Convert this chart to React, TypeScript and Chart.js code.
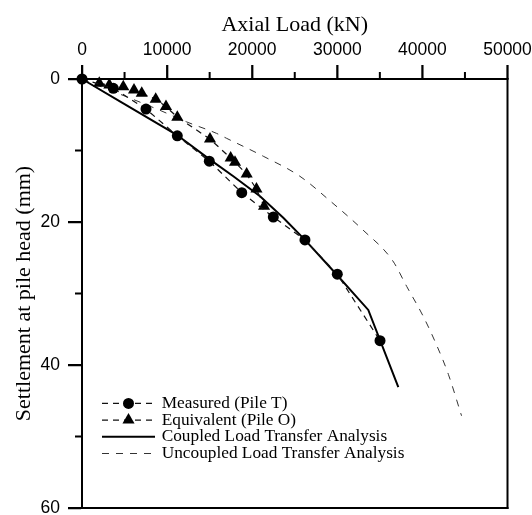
import React, { useEffect, useRef } from 'react';
import { Chart, registerables } from 'chart.js';

Chart.register(...registerables);

// ---- data ----
const xMajorStep = 10000;
const xMajorTicks = [0, 10000, 20000, 30000, 40000, 50000];
const xMinorTicks = [5000, 15000, 25000, 35000, 45000];
const yMajorStep = 20;
const yMajorTicks = [0, 20, 40, 60];
const yMinorTicks = [10, 30, 50];

const measuredLoad = [0, 3680, 7520, 11200, 14960, 18770, 22480, 26200, 30000, 35020];
const measuredSettle = [0, 1.3, 4.2, 7.95, 11.5, 15.9, 19.3, 22.5, 27.3, 36.6];

const equivLoad = [2030, 3210, 4850, 6110, 7020, 8660, 9870, 11200, 15040, 17470, 17980, 19350, 20500, 21390];
const equivSettle = [0.6, 0.84, 1.07, 1.53, 2.0, 2.83, 3.86, 5.34, 8.4, 11.06, 11.65, 13.3, 15.4, 17.8];

const coupledLoad = [0, 4850, 11130, 14960, 17780, 20920, 23650, 26200, 29730, 33640, 37170];
const coupledSettle = [0, 3.4, 7.8, 11.2, 13.6, 16.4, 19.4, 22.5, 27.1, 32.3, 43.1];

const uncoupledLoad = [0, 4000, 9000, 12300, 15800, 17000, 21300, 25600, 29300, 33000, 36500, 38150, 40100, 41700, 43050, 44600];
const uncoupledSettle = [0, 1.9, 4.3, 6.0, 7.6, 8.3, 10.8, 13.6, 17.2, 21.1, 25.4, 29.0, 33.2, 37.3, 41.3, 47.1];

const seriesLabels = [
  'Measured (Pile T)',
  'Equivalent (Pile O)',
  'Coupled Load Transfer Analysis',
  'Uncoupled Load Transfer Analysis',
];

const toPts = (xs: number[], ys: number[]) => xs.map((x, i) => ({ x, y: ys[i] }));

const SERIF = "'Liberation Serif', 'Times New Roman', serif";
const SANS = "'Liberation Sans', Arial, sans-serif";

function markerPath(ctx: CanvasRenderingContext2D, style: string, r: number, x: number, y: number) {
  ctx.beginPath();
  if (style === 'triangle') {
    let rad = 0;
    const step = (2 * Math.PI) / 3;
    ctx.moveTo(x + Math.sin(rad) * r, y - Math.cos(rad) * r);
    rad += step;
    ctx.lineTo(x + Math.sin(rad) * r, y - Math.cos(rad) * r);
    rad += step;
    ctx.lineTo(x + Math.sin(rad) * r, y - Math.cos(rad) * r);
    ctx.closePath();
  } else {
    ctx.arc(x, y, r, 0, Math.PI * 2);
  }
}

const decorPlugin = {
  id: 'decor',
  afterDraw(chart: any) {
    const { ctx, chartArea: a, scales } = chart;
    const xs = scales.x;
    const ys = scales.y;
    ctx.save();
    ctx.setLineDash([]);
    ctx.fillStyle = '#000';
    const W = 2; // axis/tick thickness
    // full frame
    ctx.fillRect(a.left - W / 2, a.top - W / 2, a.right - a.left + W, W);
    ctx.fillRect(a.left - W / 2, a.bottom - W / 2, a.right - a.left + W, W);
    ctx.fillRect(a.left - W / 2, a.top - W / 2, W, a.bottom - a.top + W);
    ctx.fillRect(a.right - W / 2, a.top - W / 2, W, a.bottom - a.top + W);
    // major and minor ticks (outward)
    for (const v of xMajorTicks) {
      const px = xs.getPixelForValue(v);
      ctx.fillRect(px - W / 2, a.top - 14, W, 14);
    }
    for (const v of xMinorTicks) {
      const px = xs.getPixelForValue(v);
      ctx.fillRect(px - W / 2, a.top - 7, W, 7);
    }
    for (const v of yMajorTicks) {
      const py = ys.getPixelForValue(v);
      ctx.fillRect(a.left - 14, py - W / 2, 14, W);
    }
    for (const v of yMinorTicks) {
      const py = ys.getPixelForValue(v);
      ctx.fillRect(a.left - 7, py - W / 2, 7, W);
    }

    // legend (custom, inside the plot area, lower left)
    const rowGap = 16.7;
    const lastRowY = a.bottom - 54.5;
    const x0 = a.left + 20;
    const x1 = a.left + 73;
    const tx = a.left + 79.7;
    const ds = chart.data.datasets;
    ctx.font = `17.3px ${SERIF}`;
    ctx.textBaseline = 'middle';
    ctx.textAlign = 'left';
    ds.forEach((d: any, i: number) => {
      const y = lastRowY - (ds.length - 1 - i) * rowGap;
      ctx.save();
      ctx.strokeStyle = d.borderColor;
      ctx.lineWidth = d.borderWidth;
      ctx.setLineDash(d.borderDash || []);
      ctx.beginPath();
      ctx.moveTo(x0, y);
      ctx.lineTo(x1, y);
      ctx.stroke();
      ctx.restore();
      if (d.pointRadius > 0) {
        markerPath(ctx, d.pointStyle, d.pointRadius, (x0 + x1) / 2, y);
        ctx.fillStyle = d.pointBackgroundColor;
        ctx.fill();
      }
      ctx.fillStyle = '#000';
      ctx.fillText(d.label, tx, y);
    });
    ctx.restore();
  },
};

export default function App() {
  const ref = useRef<HTMLCanvasElement>(null);
  useEffect(() => {
    document.body.style.margin = '0';
    const chart = new Chart(ref.current as HTMLCanvasElement, {
      type: 'scatter',
      data: {
        datasets: [
          {
            label: seriesLabels[0],
            data: toPts(measuredLoad, measuredSettle),
            showLine: true,
            borderColor: '#111',
            borderWidth: 1.2,
            borderDash: [6, 5],
            pointStyle: 'circle',
            pointRadius: 5.5,
            pointBackgroundColor: '#000',
            pointBorderWidth: 0,
            clip: false as any,
          },
          {
            label: seriesLabels[1],
            data: toPts(equivLoad, equivSettle),
            showLine: true,
            borderColor: '#111',
            borderWidth: 1.2,
            borderDash: [6, 5],
            pointStyle: 'triangle',
            pointRadius: 7,
            pointBackgroundColor: '#000',
            pointBorderWidth: 0,
            clip: false as any,
          },
          {
            label: seriesLabels[2],
            data: toPts(coupledLoad, coupledSettle),
            showLine: true,
            borderColor: '#000',
            borderWidth: 2,
            borderDash: [],
            pointRadius: 0,
            clip: false as any,
          },
          {
            label: seriesLabels[3],
            data: toPts(uncoupledLoad, uncoupledSettle),
            showLine: true,
            borderColor: '#333',
            borderWidth: 1,
            borderDash: [7, 7],
            pointRadius: 0,
            tension: 0.3,
            cubicInterpolationMode: 'monotone',
            clip: false as any,
          },
        ] as any,
      },
      options: {
        animation: false,
        responsive: true,
        maintainAspectRatio: false,
        layout: { padding: { left: 0, top: 0, right: 24.5, bottom: 6.5 } },
        plugins: { legend: { display: false }, tooltip: { enabled: false } },
        scales: {
          x: {
            type: 'linear',
            position: 'top',
            min: 0,
            max: 50000,
            ticks: {
              stepSize: xMajorStep,
              color: '#000',
              padding: 4,
              font: { family: SANS, size: 17.5 },
              callback: (v: any) => String(v),
            },
            grid: { drawOnChartArea: false, color: '#000', tickLength: 14, tickWidth: 1.5 },
            border: { display: true, color: '#000', width: 2 },
            title: {
              display: true,
              text: 'Axial Load (kN)',
              color: '#000',
              font: { family: SERIF, size: 22 },
              padding: { top: 12, bottom: 0 },
            },
            afterFit: (s: any) => {
              s.height = 79;
              s.paddingLeft = 0;
              s.paddingRight = 0;
            },
          },
          y: {
            type: 'linear',
            reverse: true,
            min: 0,
            max: 60,
            ticks: {
              stepSize: yMajorStep,
              color: '#000',
              padding: 8,
              font: { family: SANS, size: 17.5 },
            },
            grid: { drawOnChartArea: false, color: '#000', tickLength: 14, tickWidth: 1.5 },
            border: { display: true, color: '#000', width: 2 },
            title: {
              display: true,
              text: 'Settlement at pile head (mm)',
              color: '#000',
              font: { family: SERIF, size: 22 },
              padding: { top: 11, bottom: 0 },
            },
            afterFit: (s: any) => {
              s.width = 82;
              s.paddingTop = 0;
              s.paddingBottom = 0;
            },
          },
        },
      } as any,
      plugins: [decorPlugin],
    });
    return () => chart.destroy();
  }, []);
  return (
    <div style={{ width: 532, height: 515, position: 'relative' }}>
      <canvas ref={ref} />
    </div>
  );
}
